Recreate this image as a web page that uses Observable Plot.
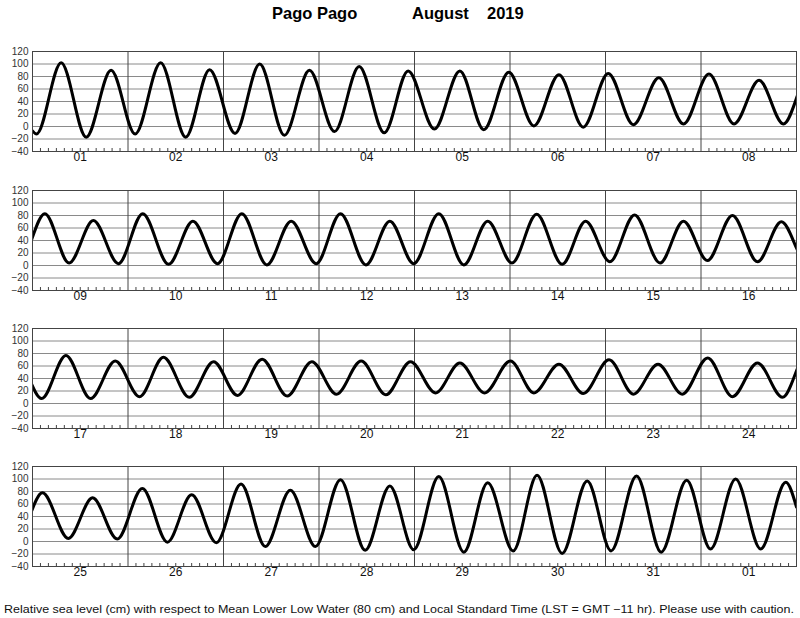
<!DOCTYPE html>
<html>
<head>
<meta charset="utf-8">
<script src="https://cdn.jsdelivr.net/npm/d3@7"></script>
<script src="https://cdn.jsdelivr.net/npm/@observablehq/plot@0.6"></script>
<style>
  body { margin: 0; background: #fff; }
  #chart { position: relative; width: 800px; height: 618px; font-family: "Liberation Sans", Arial, Helvetica, sans-serif; }
  .abs { position: absolute; left: 0; }
</style>
</head>
<body>
<div id="chart"></div>
<script>
// ---- Text ----
const titleParts = ["Pago Pago", "August", "2019"];
const captionText = "Relative sea level (cm) with respect to Mean Lower Low Water (80 cm) and Local Standard Time (LST = GMT \u221211 hr). Please use with caution.";

// ---- Tick labels ----
const dayLabels = ["01","02","03","04","05","06","07","08",
                   "09","10","11","12","13","14","15","16",
                   "17","18","19","20","21","22","23","24",
                   "25","26","27","28","29","30","31","01"];
const levelTicks = [-40, -20, 0, 20, 40, 60, 80, 100, 120];

// ---- Tide extrema (hours from start of each 8-day panel, cm) ----
const week1Hours  = [0, 1.0, 7.2, 13.5, 19.75, 25.8, 32.2, 38.5, 44.5, 50.9, 57.1, 63.3, 69.6, 75.9, 82.1, 88.4, 94.4, 101.0, 107.4, 113.4, 119.7, 126.0, 132.3, 138.4, 144.7, 151.0, 157.4, 163.6, 170.0, 176.3, 182.6, 188.7];
const week1Levels = [-7, -12, 102, -17, 90, -12, 102, -17, 91, -11, 100, -14, 90, -8, 96, -10, 89, -4, 89, -5, 87, 1, 83, -1, 85, 3, 78, 4, 84, 4, 74, 4];

const week2Hours  = [3.1, 9.2, 15.3, 21.6, 27.7, 34.2, 40.3, 46.5, 52.6, 58.9, 65.0, 71.3, 77.4, 83.8, 89.8, 95.8, 102.1, 108.4, 114.4, 120.5, 126.7, 133.1, 139.0, 145.1, 151.3, 157.7, 163.6, 169.6, 175.9, 182.2, 188.2];
const week2Levels = [83, 4, 72, 3, 83, 2, 71, 3, 83, 1, 71, 3, 83, 1, 71, 3, 83, 1, 71, 4, 82, 2, 71, 6, 81, 4, 71, 8, 80, 6, 70];

const week3Hours  = [2.3, 8.4, 14.6, 20.8, 26.9, 32.9, 39.4, 45.5, 51.5, 57.7, 64.0, 70.2, 76.4, 82.6, 88.8, 95.0, 101.3, 107.4, 113.6, 120.1, 126.0, 132.3, 138.4, 144.9, 151.0, 157.2, 163.3, 169.7, 175.9, 182.2, 188.5];
const week3Levels = [8, 77, 8, 68, 11, 74, 10, 67, 13, 71, 12, 67, 15, 68, 14, 67, 17, 65, 17, 68, 17, 63, 16, 70, 15, 63, 15, 73, 11, 65, 10];

const week4Hours  = [2.5, 9.0, 15.1, 21.3, 27.6, 33.9, 40.0, 46.2, 52.4, 58.5, 64.8, 71.1, 77.4, 83.6, 89.8, 95.8, 102.1, 108.4, 114.4, 120.8, 126.8, 133.1, 139.4, 145.4, 151.8, 158.0, 164.4, 170.4, 176.7, 183.0, 189.3, 192.0];
const week4Levels = [78, 5, 70, 4, 85, -1, 75, -2, 92, -8, 82, -8, 99, -14, 89, -13, 104, -17, 94, -15, 106, -19, 97, -15, 105, -17, 98, -12, 100, -12, 95, 55];

// ---- Build continuous table ----
const weeks = [[week1Hours, week1Levels], [week2Hours, week2Levels], [week3Hours, week3Levels], [week4Hours, week4Levels]];
const panelHours = 192;
const tide = [];
weeks.forEach(([hs, ls], p) => hs.forEach((h, i) => tide.push({hour: p * panelHours + h, level: ls[i]})));

const fmt = d => d < 0 ? "\u2212" + Math.abs(d) : String(d);
const FONT = '"Liberation Sans", Arial, Helvetica, sans-serif';
const chart = document.getElementById("chart");

// Title
const ns = "http://www.w3.org/2000/svg";
const titleSvg = document.createElementNS(ns, "svg");
titleSvg.setAttribute("width", 800); titleSvg.setAttribute("height", 40);
titleSvg.setAttribute("class", "abs"); titleSvg.style.top = "0px";
const titleX = [272, 412, 487];
titleParts.forEach((t, i) => {
  const el = document.createElementNS(ns, "text");
  el.setAttribute("x", titleX[i]); el.setAttribute("y", 18.5);
  el.setAttribute("font-family", FONT); el.setAttribute("font-weight", "bold");
  el.setAttribute("font-size", 16.5); el.setAttribute("fill", "#000");
  el.textContent = t;
  titleSvg.appendChild(el);
});
chart.appendChild(titleSvg);

// Panels
const panelTops = [41, 180, 318, 456];
panelTops.forEach((top, p) => {
  const start = p * panelHours, end = start + panelHours;
  const data = tide.filter(d => d.hour >= start - 20 && d.hour <= end + 20);
  const hourTicks = d3.range(start + 2, end, 2).filter(h => h % 24 !== 0);
  const dayBounds = d3.range(start + 24, end, 24);
  const dayMids = d3.range(start + 12, end, 24);
  const svg = Plot.plot({
    width: 800, height: 132,
    marginTop: 10, marginBottom: 22, marginLeft: 32, marginRight: 4,
    style: {fontFamily: FONT, background: "#fff"},
    x: {domain: [start, end], axis: null},
    y: {domain: [-40, 120], axis: null},
    marks: [
      Plot.ruleY(levelTicks.filter(v => v > -40 && v < 120), {stroke: "#8a8a8a", strokeWidth: 1}),
      Plot.ruleX(hourTicks, {insetTop: 97, stroke: "#444"}),
      Plot.ruleX(dayBounds, {stroke: "#444"}),
      Plot.line(data, {x: "hour", y: "level", curve: "monotone-x", stroke: "#000", strokeWidth: 3, strokeLinejoin: "round", clip: true}),
      Plot.frame({stroke: "#444"}),
      Plot.text(levelTicks, {y: d => d, text: fmt, frameAnchor: "left", textAnchor: "end", dx: -4, fontSize: 10, fill: "#333"}),
      Plot.text(dayMids, {x: d => d, text: d => dayLabels[Math.floor(d / 24)], frameAnchor: "bottom", dy: 9.5, fontSize: 12, fill: "#111"})
    ]
  });
  svg.setAttribute("class", "abs");
  svg.style.top = top + "px";
  chart.appendChild(svg);
});

// Caption
const capSvg = document.createElementNS(ns, "svg");
capSvg.setAttribute("width", 800); capSvg.setAttribute("height", 18);
capSvg.setAttribute("class", "abs"); capSvg.style.top = "600px";
const cap = document.createElementNS(ns, "text");
cap.setAttribute("x", 4); cap.setAttribute("y", 12.5);
cap.setAttribute("font-family", FONT); cap.setAttribute("font-size", 11);
cap.setAttribute("fill", "#111");
cap.setAttribute("textLength", 790); cap.setAttribute("lengthAdjust", "spacingAndGlyphs");
cap.textContent = captionText;
capSvg.appendChild(cap);
chart.appendChild(capSvg);
</script>
</body>
</html>
